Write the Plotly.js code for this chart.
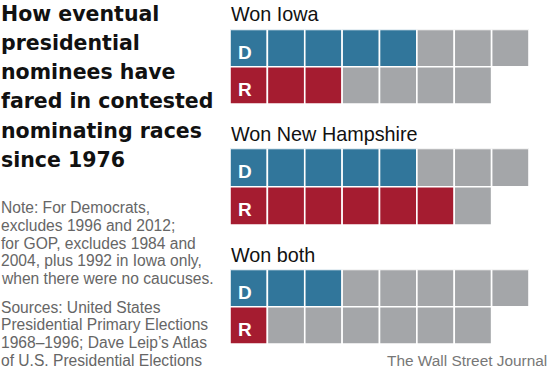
<!DOCTYPE html>
<html>
<head>
<meta charset="utf-8">
<script src="https://cdn.plot.ly/plotly-3.0.1.min.js"></script>
<style>html,body{margin:0;padding:0;background:#fff;}#chart{width:553px;height:369px;}</style>
</head>
<body>
<div id="chart"></div>
<script>
// ---- data ----
const panelTitles = ['Won Iowa', 'Won New Hampshire', 'Won both'];
const parties = ['D', 'R'];
const totalRaces = [8, 7];            // contested races counted: D, R
const wonD = [5, 5, 3];               // eventual Democratic nominee won (Iowa, NH, both)
const wonR = [3, 6, 1];               // eventual Republican nominee won (Iowa, NH, both)
const titleLines = ['How eventual', 'presidential', 'nominees have', 'fared in contested', 'nominating races', 'since 1976'];
const noteLines = ['Note: For Democrats,', 'excludes 1996 and 2012;', 'for GOP, excludes 1984 and', '2004, plus 1992 in Iowa only,', 'when there were no caucuses.'];
const sourceLines = ['Sources: United States', 'Presidential Primary Elections', '1968\u20131996; Dave Leip\u2019s Atlas', 'of U.S. Presidential Elections'];
const credit = 'The Wall Street Journal';

// ---- styles ----
const W = 553, H = 369;
const partyColor = {D: '#31769b', R: '#a51c30'};
const grey = '#a4a6a9';
const py = p => 1 - p / H;            // pixel row -> paper y
const panelPx = [[29.5, 104], [148.5, 225], [269.5, 344]];
const titlePx = [14, 134, 254.5];

const wins = [wonD, wonR];
const traces = [];
const annotations = [];
const layout = {
  width: W, height: H,
  margin: {l: 0, r: 0, t: 0, b: 0},
  paper_bgcolor: '#fff', plot_bgcolor: 'rgba(0,0,0,0)',
  showlegend: false,
  barmode: 'overlay',
  xaxis: {domain: [230 / W, 529 / W], range: [0, 8], visible: false, fixedrange: true},
  font: {family: 'Liberation Sans, Arial, sans-serif'}
};

panelTitles.forEach((t, pi) => {
  const yname = pi === 0 ? 'y' : 'y' + (pi + 1);
  const axKey = pi === 0 ? 'yaxis' : 'yaxis' + (pi + 1);
  layout[axKey] = {
    domain: [py(panelPx[pi][1]), py(panelPx[pi][0])],
    type: 'category', categoryarray: ['R', 'D'], range: [-0.5, 1.5],
    visible: false, fixedrange: true, anchor: 'x'
  };
  parties.forEach((p, ri) => {
    const n = totalRaces[ri];
    const won = wins[ri][pi];
    const idx = Array.from({length: n}, (_, i) => i);
    traces.push({
      type: 'bar', orientation: 'h',
      xaxis: 'x', yaxis: yname,
      y: idx.map(() => p),
      x: idx.map(() => 1),
      base: idx,
      width: 1,
      marker: {color: idx.map(i => i < won ? partyColor[p] : grey), line: {color: '#fff', width: 1.6}},
      hoverinfo: 'skip'
    });
    annotations.push({
      xref: 'x', yref: yname, x: 0, y: p === 'D' ? 1 : 0,
      xanchor: 'left', yanchor: 'middle', xshift: 6, yshift: -4,
      text: '<b>' + p + '</b>', showarrow: false,
      font: {family: 'Liberation Sans, Arial, sans-serif', size: 19, color: '#fff'}
    });
  });
  annotations.push({
    xref: 'paper', yref: 'paper', x: 229 / W, y: py(titlePx[pi]),
    xanchor: 'left', yanchor: 'middle', text: t, showarrow: false,
    font: {family: 'Liberation Sans, Arial, sans-serif', size: 19.8, color: '#111'}
  });
});

titleLines.forEach((l, i) => {
  annotations.push({
    xref: 'paper', yref: 'paper', x: -1 / W, y: py(13.5 + i * 29.3),
    xanchor: 'left', yanchor: 'middle', text: '<b>' + l + '</b>', showarrow: false,
    font: {family: 'DejaVu Sans, sans-serif', size: 20.5, color: '#111'}
  });
});
noteLines.forEach((l, i) => {
  annotations.push({
    xref: 'paper', yref: 'paper', x: -1 / W, y: py(208 + i * 17.6),
    xanchor: 'left', yanchor: 'middle', text: l, showarrow: false,
    font: {family: 'Liberation Sans, Arial, sans-serif', size: 15.6, color: '#666'}
  });
});
sourceLines.forEach((l, i) => {
  annotations.push({
    xref: 'paper', yref: 'paper', x: -1 / W, y: py(307 + i * 17.8),
    xanchor: 'left', yanchor: 'middle', text: l, showarrow: false,
    font: {family: 'Liberation Sans, Arial, sans-serif', size: 15.6, color: '#666'}
  });
});
annotations.push({
  xref: 'paper', yref: 'paper', x: 549 / W, y: py(360),
  xanchor: 'right', yanchor: 'middle', text: credit, showarrow: false,
  font: {family: 'Liberation Sans, Arial, sans-serif', size: 15.4, color: '#777'}
});
layout.annotations = annotations;

Plotly.newPlot('chart', traces, layout, {displayModeBar: false, staticPlot: true});
</script>
</body>
</html>
